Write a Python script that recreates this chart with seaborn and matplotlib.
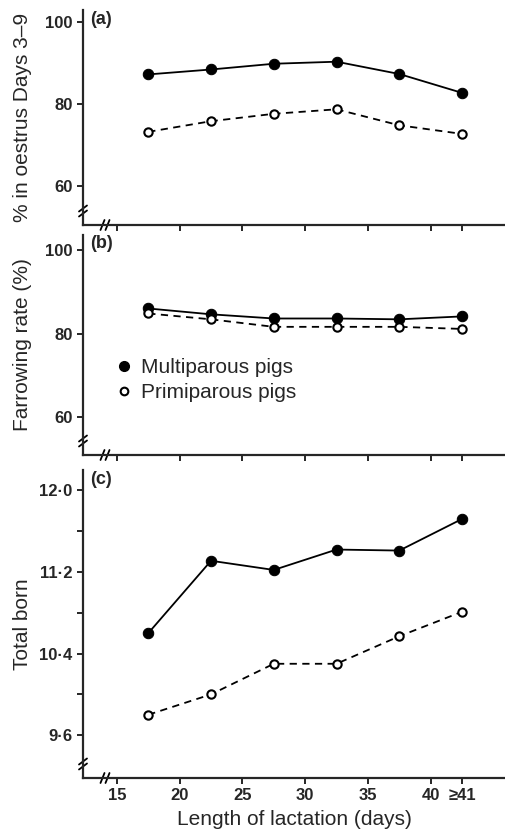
import numpy as np
import pandas as pd
import matplotlib
matplotlib.use("Agg")
import matplotlib.pyplot as plt
import seaborn as sns
from matplotlib.lines import Line2D

sns.set_style("ticks")
plt.rcParams['font.family'] = ['Liberation Sans', 'DejaVu Sans']

# --- data ---
days = [17.5, 22.5, 27.5, 32.5, 37.5, 42.5]
day_ticks = [15, 20, 25, 30, 35, 40, 42.5]
day_labels = ["15", "20", "25", "30", "35", "40", "\u226541"]

oestrus_multi = [87.2, 88.4, 89.8, 90.3, 87.3, 82.7]
oestrus_primi = [73.2, 75.8, 77.6, 78.7, 74.8, 72.7]

farrow_multi = [86.0, 84.6, 83.6, 83.6, 83.4, 84.1]
farrow_primi = [84.8, 83.4, 81.6, 81.6, 81.6, 81.1]

born_multi = [10.60, 11.31, 11.22, 11.42, 11.41, 11.72]
born_primi = [9.80, 10.00, 10.30, 10.30, 10.57, 10.81]

pct_ticks = [60, 80, 100]
born_ticks = [9.6, 10.0, 10.4, 10.8, 11.2, 11.6, 12.0]
born_labels = ["9\u00b76", "", "10\u00b74", "", "11\u00b72", "", "12\u00b70"]

panels = [
    ("(a)", "% in oestrus Days 3\u20139", oestrus_multi, oestrus_primi, (50.5, 102.9)),
    ("(b)", "Farrowing rate (%)", farrow_multi, farrow_primi, (50.9, 103.6)),
    ("(c)", "Total born", born_multi, born_primi, (9.18, 12.2)),
]

fig = plt.figure(figsize=(5.06, 8.32), dpi=100)
# axes boxes in pixels: top, bottom
boxes = [(10, 225), (235, 455), (470, 778)]
W, H = 506, 832
left = 83

for i, (tag, ylab, multi, primi, ylim) in enumerate(panels):
    top, bot = boxes[i]
    ax = fig.add_axes([left / W, 1 - bot / H, (W - left) / W, (bot - top) / H])
    df = pd.DataFrame({"days": days * 2,
                       "value": multi + primi,
                       "group": ["Multiparous pigs"] * 6 + ["Primiparous pigs"] * 6})
    sns.lineplot(data=df[df.group == "Multiparous pigs"], x="days", y="value", ax=ax,
                 color="black", lw=1.3, marker="o", markersize=7.5,
                 markerfacecolor="black", markeredgecolor="black", legend=False)
    sns.lineplot(data=df[df.group == "Primiparous pigs"], x="days", y="value", ax=ax,
                 color="black", lw=1.3, linestyle=(0, (4, 3)), marker="o", markersize=6,
                 markerfacecolor="white", markeredgecolor="black", markeredgewidth=1.5,
                 legend=False)
    ax.set_xlim(12.3, 46)
    ax.set_ylim(*ylim)
    sns.despine(ax=ax)
    for s in ["left", "bottom"]:
        ax.spines[s].set_linewidth(1.6)
    ax.tick_params(axis="both", direction="out", length=4, width=1.4, labelsize=12)
    ax.set_xticks(day_ticks)
    if i < 2:
        ax.set_yticks(pct_ticks)
        ax.set_yticklabels([str(t) for t in pct_ticks], fontweight="bold")
        ax.set_xticklabels([])
        ax.set_xlabel("")
    else:
        ax.set_yticks(born_ticks)
        ax.set_yticklabels(born_labels, fontweight="bold")
        ax.set_xticklabels(day_labels, fontweight="bold")
        ax.set_xlabel("Length of lactation (days)", fontsize=15, labelpad=5)
    ax.set_ylabel(ylab, fontsize=15)
    ax.yaxis.set_label_coords(-(83 - 32) / (W - left), 0.5)
    ax.text(0.017, 1 - 9 / (bot - top), tag, transform=ax.transAxes, fontsize=13,
            fontweight="bold", va="center", ha="left")

    # axis break marks
    bh = 14 / (bot - top)
    bw = 22 / (W - left)
    dx, dy = 4 / (W - left), 3 / (bot - top)
    for off in (-2.5, 2.5):
        ax.plot([-dx, dx], [bh - dy + off / (bot - top), bh + dy + off / (bot - top)],
                transform=ax.transAxes, color="black", lw=1.3, clip_on=False)
        ax.plot([bw - 2 / (W - left) + off / (W - left), bw + 2 / (W - left) + off / (W - left)],
                [-5 / (bot - top), 5 / (bot - top)],
                transform=ax.transAxes, color="black", lw=1.3, clip_on=False)

    if i == 1:
        handles = [Line2D([], [], ls="none", marker="o", color="black", markersize=7),
                   Line2D([], [], ls="none", marker="o", markerfacecolor="white",
                          markeredgecolor="black", markeredgewidth=1.5, markersize=5.5)]
        ax.legend(handles, ["Multiparous pigs", "Primiparous pigs"], loc="upper left",
                  bbox_to_anchor=((117 - left) / (W - left), (bot - 358) / (bot - top)),
                  frameon=False, fontsize=15, handlelength=0.7, handletextpad=0.45,
                  labelspacing=0.3, borderpad=0, borderaxespad=0)

fig.savefig("out.png", dpi=100)
